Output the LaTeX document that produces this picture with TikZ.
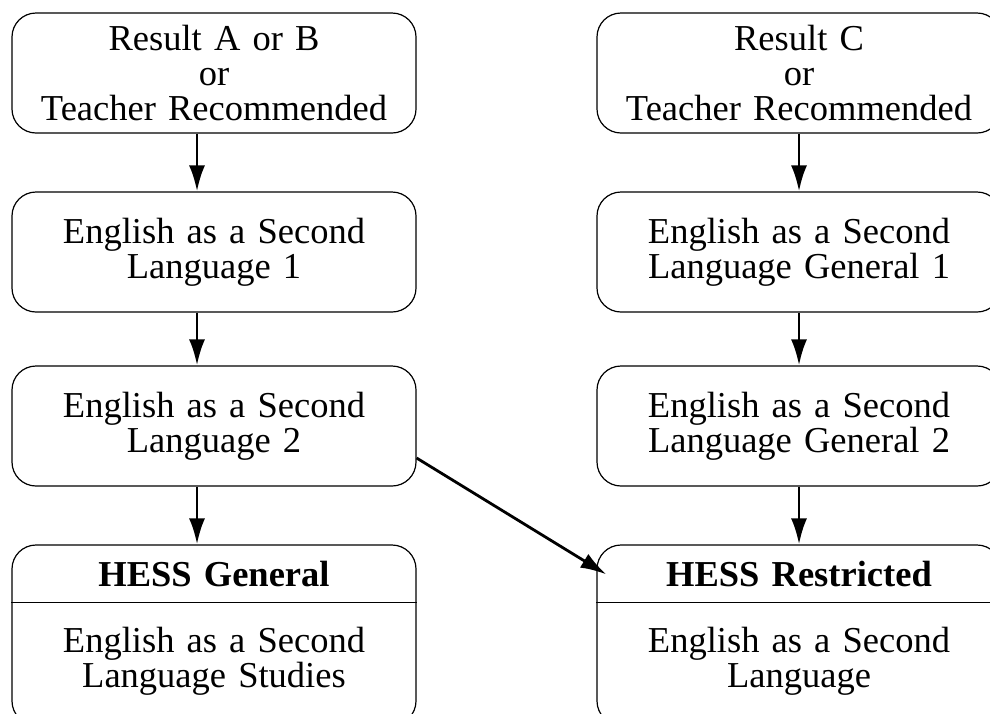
\documentclass[tikz,border=0pt]{standalone}
\usepackage{fontspec}
\setmainfont{Liberation Serif}
\usetikzlibrary{arrows.meta}

\tikzset{stage/.style={draw,rounded corners=24pt,line width=1.2pt,minimum width=404pt,minimum height=120pt,
		text width=390pt,align=center,inner sep=0pt,font=\fontsize{36.5}{35}\selectfont}}
\tikzset{part/.style={text width=390pt,align=center,inner sep=0pt,font=\fontsize{36.5}{35}\selectfont}}
\tikzset{flow/.style={-{Latex[length=26pt,width=16pt]},line width=2.8pt}}

\begin{document}
\begin{tikzpicture}[x=1pt,y=-1pt]
	\useasboundingbox (0,0) rectangle (990,713);
	\clip (0,0) rectangle (990,713);
	
	% left column
	\node[stage] (L1) at (214,73) {Result A or B\\or\\Teacher Recommended};
	\node[stage] (L2) at (214,252) {English as a Second\\Language 1};
	\node[stage] (L3) at (214,426) {English as a Second\\Language 2};
	\node[stage,minimum height=180pt] (L4) at (214,635) {};
	\node[part,minimum height=58pt,anchor=north] (L4t) at (L4.north) {\bfseries HESS General};
	\node[part,minimum height=117pt,anchor=north] (L4b) at (L4t.south) {English as a Second\\Language Studies};
	\draw[line width=1.2pt] (L4.west |- L4t.south) -- (L4.east |- L4t.south);
	
	% right column
	\node[stage] (R1) at (799,73) {Result C\\or\\Teacher Recommended};
	\node[stage] (R2) at (799,252) {English as a Second\\Language General 1};
	\node[stage] (R3) at (799,426) {English as a Second\\Language General 2};
	\node[stage,minimum height=180pt] (R4) at (799,635) {};
	\node[part,minimum height=58pt,anchor=north] (R4t) at (R4.north) {\bfseries HESS Restricted};
	\node[part,minimum height=117pt,anchor=north] (R4b) at (R4t.south) {English as a Second\\Language};
	\draw[line width=1.2pt] (R4.west |- R4t.south) -- (R4.east |- R4t.south);
	
	% arrows
	\draw[flow] ([xshift=-17pt]L1.south) -- ([xshift=-17pt]L2.north);
	\draw[flow] ([xshift=-17pt]L2.south) -- ([xshift=-17pt]L3.north);
	\draw[flow] ([xshift=-17pt]L3.south) -- ([xshift=-17pt]L4.north);
	\draw[flow] (R1.south) -- (R2.north);
	\draw[flow] (R2.south) -- (R3.north);
	\draw[flow] (R3.south) -- (R4.north);
	\draw[flow] ([yshift=-32pt]L3.east) -- ([xshift=10pt,yshift=-30pt]R4.north west);
\end{tikzpicture}
\end{document}
